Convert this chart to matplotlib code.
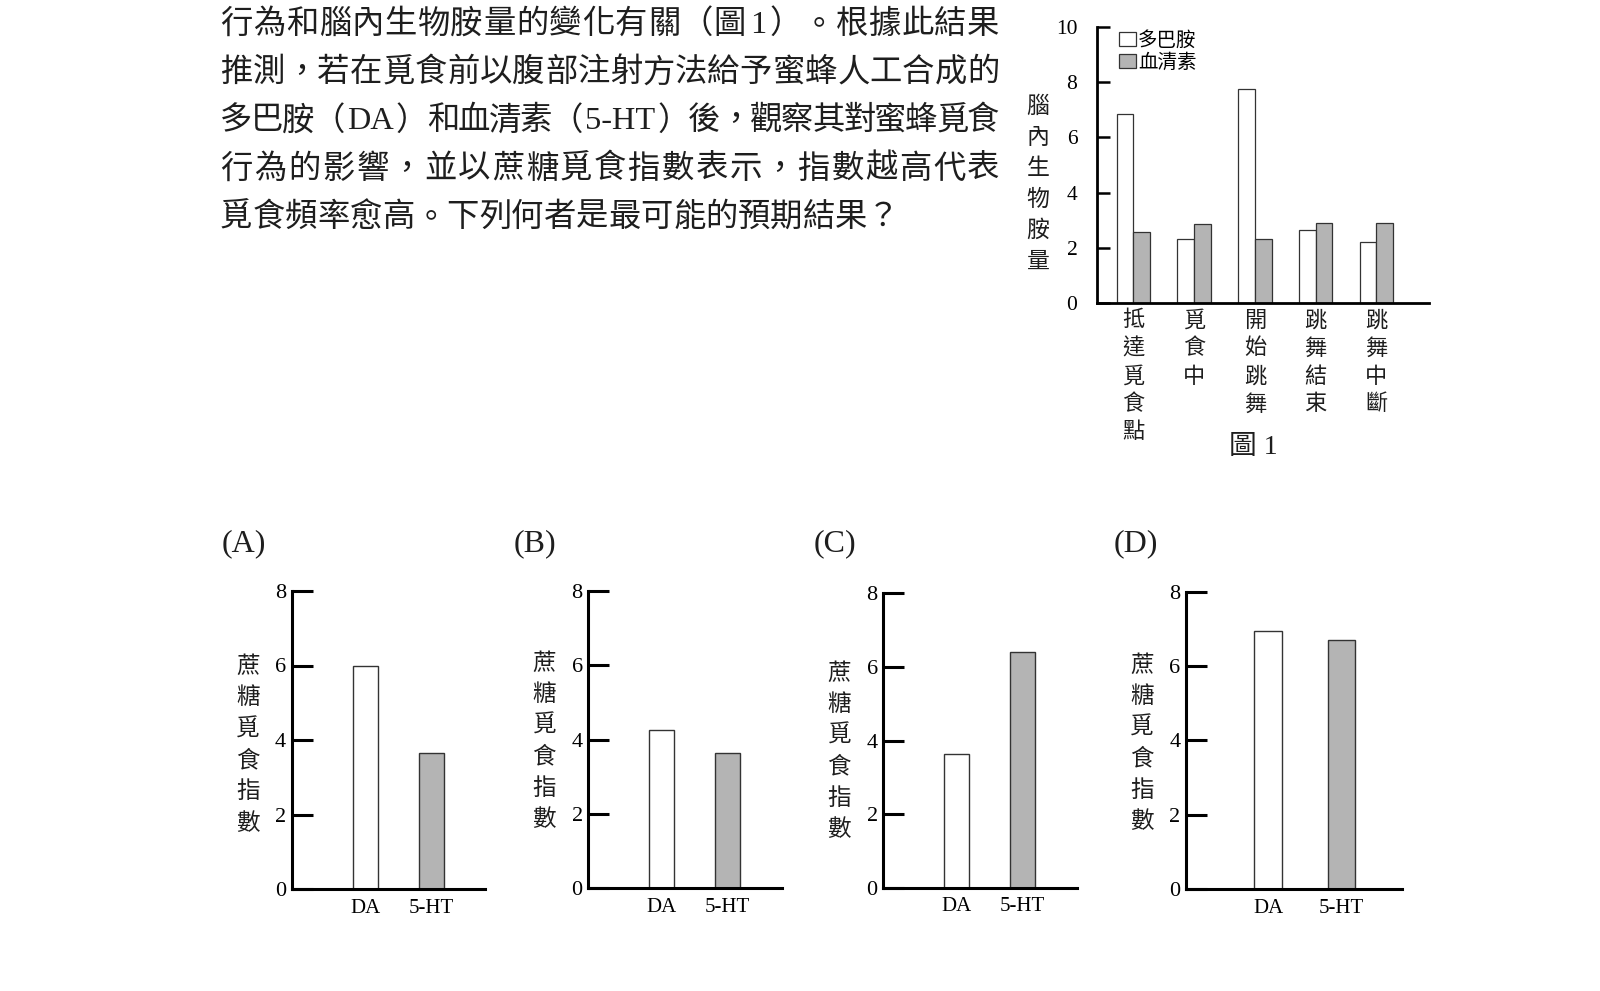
import matplotlib
matplotlib.use('Agg')
import matplotlib.pyplot as plt
from matplotlib.patches import Patch
from matplotlib.transforms import blended_transform_factory
import numpy as np

W, H = 1600, 991
MIX = ['Liberation Serif', 'Noto Sans CJK TC']
CJK = ['Noto Sans CJK TC', 'DejaVu Sans']
plt.rcParams['font.family'] = MIX

# question text
paragraph = [
    '行為和腦內生物胺量的變化有關（圖1）。根據此結果',
    '推測，若在覓食前以腹部注射方法給予蜜蜂人工合成的',
    '多巴胺（DA）和血清素（5-HT）後，觀察其對蜜蜂覓食',
    '行為的影響，並以蔗糖覓食指數表示，指數越高代表',
    '覓食頻率愈高。下列何者是最可能的預期結果？',
]

# figure 1 data
stages = ['抵達覓食點', '覓食中', '開始跳舞', '跳舞結束', '跳舞中斷']
dopamine = [6.84, 2.34, 7.75, 2.64, 2.22]
serotonin = [2.59, 2.86, 2.34, 2.89, 2.89]
fig1_yticks = [0, 2, 4, 6, 8, 10]
fig1_ylabel = '腦內生物胺量'
legend_labels = ['多巴胺', '血清素']

# answer options
option_labels = ['(A)', '(B)', '(C)', '(D)']
treatments = ['DA', '5-HT']
option_A = [6.0, 3.64]
option_B = [4.26, 3.65]
option_C = [3.63, 6.40]
option_D = [6.94, 6.71]
option_yticks = [0, 2, 4, 6, 8]
option_ylabel = '蔗糖覓食指數'

GRAY = '#b4b4b4'
EDGE = '#333333'
TEXT = '#1e1e1e'


def fx(x):
    return x / W


def fy(y):
    return 1 - y / H


def add_axes_px(left, right, bottom, top):
    return fig.add_axes([fx(left), fy(bottom), (right - left) / W, (bottom - top) / H])


def vertical_text(x, y0, step, s, size):
    for j, ch in enumerate(s):
        fig.text(fx(x), fy(y0 + step * j), ch, ha='center', va='center',
                 fontsize=size, family=CJK, color=TEXT)


def tokens(s):
    # CJK characters one by one, latin runs kept together
    out, buf = [], ''
    for ch in s:
        if ord(ch) < 128:
            buf += ch
        else:
            if buf:
                out.append(buf)
                buf = ''
            out.append(ch)
    if buf:
        out.append(buf)
    return out


fig = plt.figure(figsize=(W / 100, H / 100), dpi=100)
renderer = fig.canvas.get_renderer()

# paragraph, justified like the printed page
PSIZE = 23.3
em = PSIZE * 100 / 72
x0, x1 = 220.0, 999.5
for k, line in enumerate(paragraph):
    base = 33.0 + 48.2 * k
    toks = tokens(line)
    texts, slots = [], []
    for t in toks:
        txt = fig.text(0, fy(base), t, ha='center', va='baseline',
                       fontsize=PSIZE, color=TEXT, fontweight='light')
        texts.append(txt)
        if ord(t[0]) < 128:
            slots.append(txt.get_window_extent(renderer).width + 0.2 * em)
        else:
            slots.append(em)
    gap = 0.0
    if k < len(paragraph) - 1:
        gap = (x1 - x0 - sum(slots)) / (len(toks) - 1)
    pos = x0
    for txt, sw in zip(texts, slots):
        txt.set_x(fx(pos + sw / 2))
        pos += sw + gap

# figure 1
ax = add_axes_px(1096.7, 1429.3, 303.3, 26.7)
x = np.arange(len(stages))
w = 0.275
ax.bar(x - w / 2, dopamine, w, color='white', edgecolor=EDGE, linewidth=0.9)
ax.bar(x + w / 2, serotonin, w, color=GRAY, edgecolor=EDGE, linewidth=0.9)
ax.set_xlim(-0.604, 4.87)
ax.set_ylim(0, 10)
ax.set_yticks(fig1_yticks)
ax.set_xticks([])
for side in ['top', 'right']:
    ax.spines[side].set_visible(False)
for side in ['left', 'bottom']:
    ax.spines[side].set_linewidth(2)
ax.tick_params(axis='y', direction='in', length=9, width=1.8, pad=14, labelsize=15.5)
ax.patch.set_alpha(0)

trans = blended_transform_factory(ax.transData, fig.transFigure)
for i, lab in enumerate(stages):
    for j, ch in enumerate(lab):
        ax.text(i, fy(320 + 28 * j), ch, transform=trans, ha='center', va='center',
                fontsize=16, family=CJK, color=TEXT)

vertical_text(1038, 106, 31, fig1_ylabel, 16.5)

handles = [Patch(facecolor='white', edgecolor=EDGE, linewidth=0.9),
           Patch(facecolor=GRAY, edgecolor=EDGE, linewidth=0.9)]
ax.legend(handles, legend_labels, loc='upper left', bbox_to_anchor=(0.066, 0.99),
          frameon=False, prop={'family': CJK, 'size': 14}, handlelength=0.9,
          handleheight=0.75, handletextpad=0.1, labelspacing=0.05, borderpad=0,
          borderaxespad=0)

fig.text(fx(1253), fy(448), '圖 1', ha='center', va='center', fontsize=20, color=TEXT)

# options
option_values = [option_A, option_B, option_C, option_D]
option_rects = [(291.7, 485.0, 889.0, 591.0),
                (588.3, 781.7, 888.3, 591.0),
                (883.3, 1076.7, 887.7, 593.3),
                (1186.0, 1401.7, 889.0, 591.7)]
label_x = [221.7, 513.3, 813.3, 1114.0]
ylabel_top = [666.7, 663.0, 673.0, 665.0]

for lab, vals, rect, lx, yt in zip(option_labels, option_values, option_rects, label_x, ylabel_top):
    oax = add_axes_px(*rect)
    oax.bar([0, 1], vals, 0.38, color=['white', GRAY], edgecolor=EDGE, linewidth=1.0)
    oax.set_xlim(-1.12, 1.82)
    oax.set_ylim(0, 8)
    oax.set_yticks(option_yticks)
    oax.set_xticks([0, 1], treatments)
    for side in ['top', 'right']:
        oax.spines[side].set_visible(False)
    for side in ['left', 'bottom']:
        oax.spines[side].set_linewidth(2.2)
    oax.tick_params(axis='y', direction='in', length=15, width=2.2, pad=4, labelsize=16)
    oax.tick_params(axis='x', length=0, pad=7, labelsize=15)
    oax.patch.set_alpha(0)
    fig.text(fx(lx), fy(543.5), lab, ha='left', va='center', fontsize=23, color=TEXT)
    vertical_text(rect[0] - 44, yt, 31.3, option_ylabel, 17)

fig.savefig('out.png', dpi=100, facecolor='white')
